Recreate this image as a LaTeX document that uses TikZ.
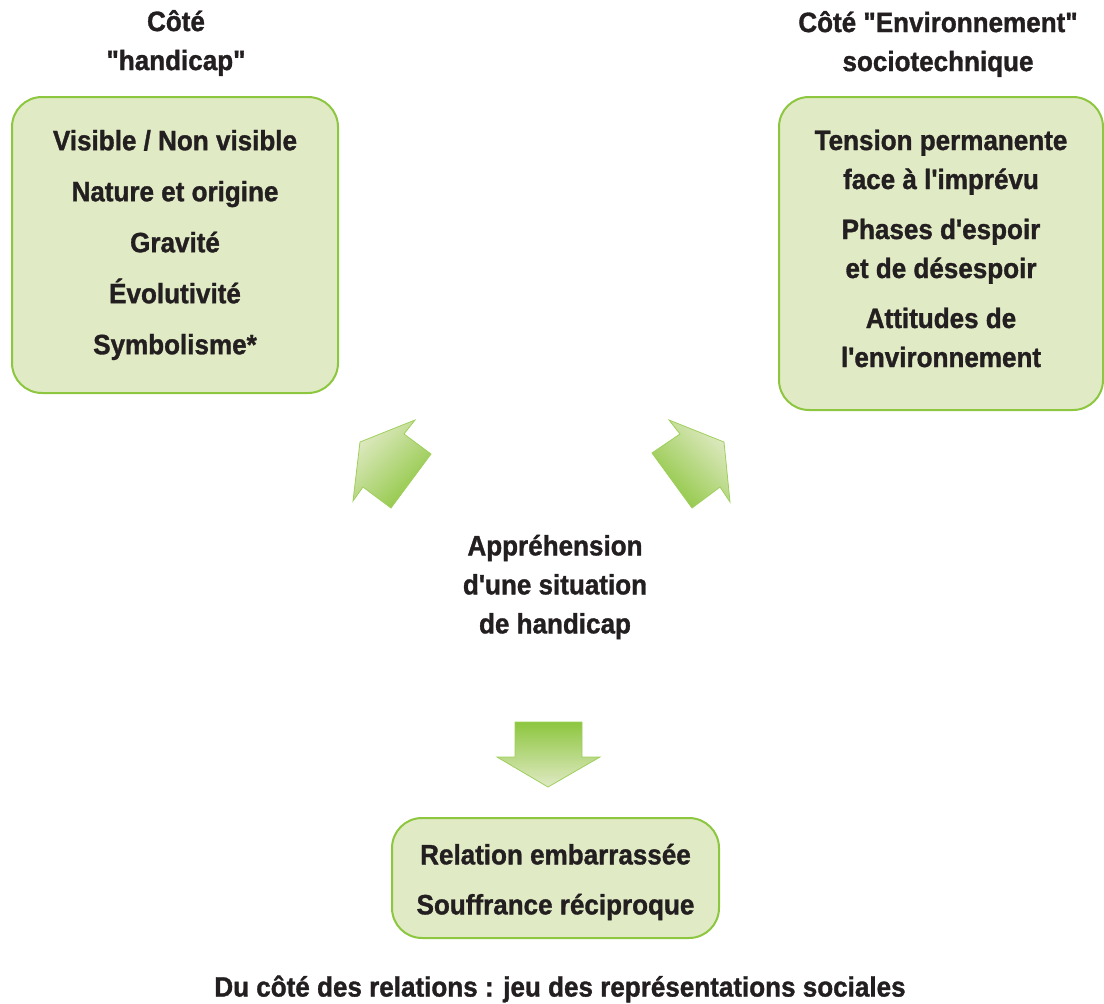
\documentclass[tikz,border=0pt]{standalone}
\usepackage{fontspec}
\setmainfont{Liberation Sans}[FakeStretch=0.93,FakeBold=1.2,Ligatures=TeXOff]
\usetikzlibrary{positioning}
\definecolor{leaf}{HTML}{8DC63F}
\definecolor{pale}{HTML}{E0EAC4}
\definecolor{ink}{HTML}{231F20}
\tikzset{
    box/.style={draw=leaf, line width=2pt, fill=pale, rounded corners=30pt, align=center, text=ink},
    txt/.style={align=center, text=ink},
    blk/.style={draw=leaf!85, line width=0.8pt}
}

\begin{document}
\begin{tikzpicture}[x=1pt, y=-1pt, font=\fontsize{28}{39}\selectfont\bfseries]
    \useasboundingbox (0,0) rectangle (1104,1004);

    % titles
    \node[txt] (th) at (176,43) {Côté\\"handicap"};
    \node[txt] (te) at (938,44) {Côté "Environnement"\\sociotechnique};

    % boxes
    \node[box, minimum width=326, minimum height=296, font=\fontsize{28}{51}\selectfont\bfseries] (hand) at (175,245)
        {Visible / Non visible\\Nature et origine\\Gravité\\Évolutivité\\Symbolisme*};
    \node[box, minimum width=324, minimum height=313] (envt) at (941,253.5) {};
    \node[txt] (envtx) at (envt) [yshift=5]
        {Tension permanente\\face à l'imprévu\\[11pt]Phases d'espoir\\et de désespoir\\[11pt]Attitudes de\\l'environnement};
    \node[txt] (appr) at (555,587) {Appréhension\\d'une situation\\de handicap};
    \node[box, minimum width=327, minimum height=120] (rel) at (555.5,878) {};
    \node[txt, font=\fontsize{28}{50}\selectfont\bfseries] (relx) at (rel) [yshift=-4]
        {Relation embarrassée\\Souffrance réciproque};
    \node[txt] (cap) at (560,989) {Du côté des relations : jeu des représentations sociales};

    % block arrows
    \shadedraw[blk, top color=pale, bottom color=leaf, shading angle=45]
        (360,442) -- (415,420) -- (404,434) -- (431,454) -- (391,508) -- (363,487) -- (353,501) -- cycle;
    \shadedraw[blk, top color=pale, bottom color=leaf, shading angle=-45]
        (724,442) -- (669,420) -- (680,434) -- (652,453) -- (692,508) -- (720,487) -- (730,502) -- cycle;
    \shadedraw[blk, top color=leaf, bottom color=pale]
        (515,722) -- (582,722) -- (582,757) -- (600,757) -- (548,787) -- (497,757) -- (515,757) -- cycle;
\end{tikzpicture}
\end{document}
